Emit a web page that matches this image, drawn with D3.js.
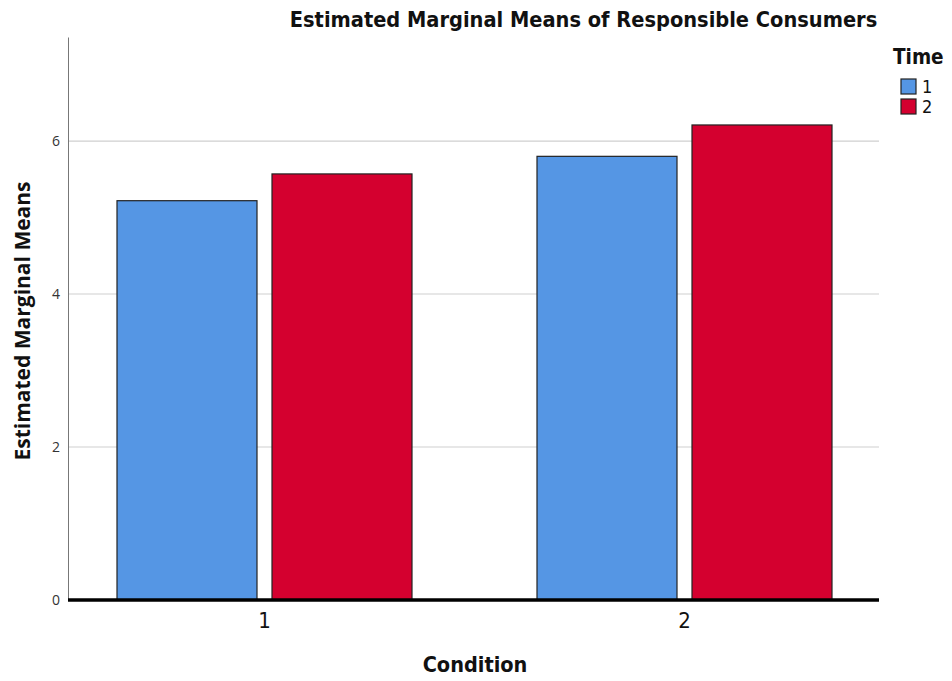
<!DOCTYPE html>
<html><head><meta charset="utf-8">
<script src="https://cdn.jsdelivr.net/npm/d3@7"></script>
<style>body{margin:0;background:#fff;} svg{display:block;}</style>
</head><body>
<svg id="c" width="952" height="681"></svg>
<script>
const categories = ["1", "2"];
const seriesNames = ["1", "2"];
const time1Values = [5.22, 5.80];
const time2Values = [5.57, 6.21];
const yTicks = [0, 2, 4, 6];
const colors = ["#5596E4", "#D4002F"];

(function () {
const svg = d3.select("#c");
const pLeft = 68, pRight = 879, pTop = 37, pBottom = 600;
const cond = "DejaVu Sans Condensed, DejaVu Sans, sans-serif";
const y = d3.scaleLinear().domain([0, 7.36]).range([pBottom, pTop]);
const x0 = d3.scaleBand().domain(categories).range([54.5, 894.5]).padding(0);
const x1 = d3.scaleBand().domain(seriesNames).range([0, 295]).paddingInner(15/155);

// gridlines
svg.append("g").selectAll("line").data(yTicks.filter(d => d > 0)).join("line")
  .attr("x1", pLeft).attr("x2", pRight).attr("y1", d => y(d)).attr("y2", d => y(d))
  .attr("stroke", "#cfcfcf").attr("stroke-width", 1.2);

// y axis
const yAxis = d3.axisLeft(y).tickValues(yTicks).tickSize(0).tickPadding(8).tickFormat(d3.format("d"));
const ga = svg.append("g").attr("transform", `translate(${pLeft},0)`).call(yAxis);
ga.select(".domain").attr("stroke", "#777").attr("stroke-width", 1);
ga.selectAll("text").attr("font-family", "Open Sans, sans-serif").attr("font-size", 14).attr("fill", "#333");

// bars
const data = categories.map((c, i) => ({c, vals: [time1Values[i], time2Values[i]]}));
const groups = svg.append("g").selectAll("g").data(data).join("g")
  .attr("transform", d => `translate(${x0(d.c) + x0.bandwidth()/2 - 147.5},0)`);
groups.selectAll("rect").data(d => d.vals.map((v, j) => ({s: seriesNames[j], v, j}))).join("rect")
  .attr("x", d => x1(d.s)).attr("width", x1.bandwidth())
  .attr("y", d => y(d.v)).attr("height", d => y(0) - y(d.v))
  .attr("fill", d => colors[d.j]).attr("stroke", "#222").attr("stroke-width", 1.2);

// x axis baseline
const xAxis = d3.axisBottom(x0).tickSize(0).tickPadding(12);
const gx = svg.append("g").attr("transform", `translate(0,${pBottom})`).call(xAxis);
gx.select(".domain").remove();
svg.append("line").attr("x1", pLeft).attr("x2", pRight).attr("y1", pBottom).attr("y2", pBottom)
  .attr("stroke", "#000").attr("stroke-width", 3.5);
gx.selectAll("text").attr("font-family", cond).attr("font-size", 22).attr("fill", "#111");

// title
svg.append("text").attr("x", 583.5).attr("y", 27).attr("text-anchor", "middle")
  .attr("font-family", cond).attr("font-weight", "bold").attr("font-stretch", "condensed")
  .attr("font-size", 21.6).attr("fill", "#111").text("Estimated Marginal Means of Responsible Consumers");

// axis titles
svg.append("text").attr("transform", "translate(30,321) rotate(-90)").attr("text-anchor", "middle")
  .attr("font-family", "Open Sans, sans-serif").attr("font-weight", "bold").attr("font-size", 21)
  .attr("fill", "#111").text("Estimated Marginal Means");
svg.append("text").attr("x", 475).attr("y", 672).attr("text-anchor", "middle")
  .attr("font-family", cond).attr("font-weight", "bold").attr("font-stretch", "condensed").attr("font-size", 21.5)
  .attr("fill", "#111").text("Condition");

// legend
svg.append("text").attr("x", 893).attr("y", 64)
  .attr("font-family", cond).attr("font-weight", "bold").attr("font-stretch", "condensed").attr("font-size", 20.5)
  .attr("fill", "#111").text("Time");
const lg = svg.append("g").selectAll("g").data(seriesNames).join("g")
  .attr("transform", (d, i) => `translate(901,${79 + i*20})`);
lg.append("rect").attr("width", 15).attr("height", 15).attr("fill", (d, i) => colors[i])
  .attr("stroke", "#222").attr("stroke-width", 1.2);
lg.append("text").attr("x", 21).attr("y", 14).attr("font-family", cond)
  .attr("font-size", 18).attr("fill", "#111").text(d => d);
})();
</script>
</body></html>
